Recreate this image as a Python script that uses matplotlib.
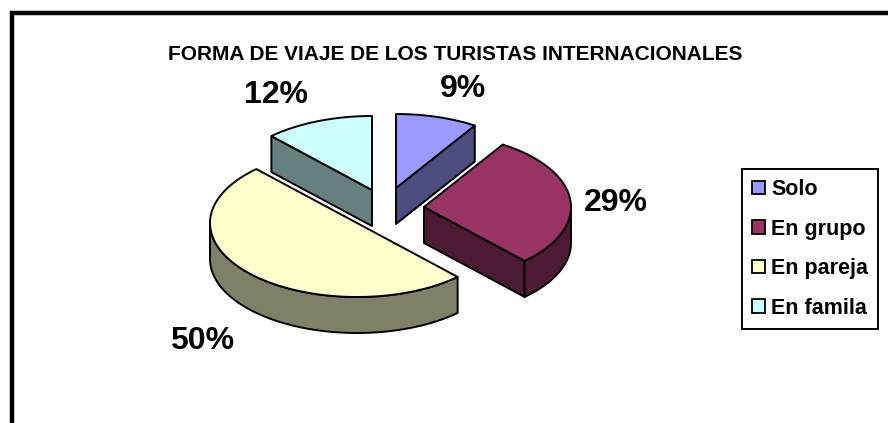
import matplotlib
matplotlib.use("Agg")
import matplotlib.pyplot as plt
from matplotlib.patches import Polygon, Patch
import numpy as np

plt.rcParams['font.family'] = ['Liberation Sans', 'DejaVu Sans']

title = "FORMA DE VIAJE DE LOS TURISTAS INTERNACIONALES"
categories = ["Solo", "En grupo", "En pareja", "En famila"]
values = [9, 29, 50, 12]

top_colors = ["#9999FF", "#993366", "#FFFFCC", "#CCFFFF"]
side_colors = ["#4D4D80", "#4D1A33", "#808066", "#668080"]

# where each slice sits once exploded, in pixels
apex_x = [396, 424, 357, 372]
apex_y = [188, 207, 223, 190]
label_x = [463, 616, 202, 276]
label_y = [89, 203, 341, 95]
rx = 147
ry = 74
depth = 36

fig = plt.figure(figsize=(8.88, 4.23), dpi=100)
ax = fig.add_axes([0, 0, 1, 1])
ax.set_xlim(0, 888)
ax.set_ylim(423, 0)
ax.axis('off')

# thick frame, cut off at right and bottom
ax.plot([12, 12, 900], [440, 13, 13], color='black', lw=3.2, solid_joinstyle='miter')

ax.text(455, 54, title, ha='center', va='center', fontsize=15, fontweight='bold')


def arc(cx, cy, a0, a1):
    # angles clockwise from the top of the pie, in degrees
    t = np.radians(np.linspace(a0, a1, 80))
    return np.column_stack([cx + rx * np.sin(t), cy - ry * np.cos(t)])


def draw_slice(i, a0, a1):
    cx = apex_x[i]
    cy = apex_y[i]
    down = np.array([0, depth])
    apex = np.array([[cx, cy]])
    edge = {'edgecolor': 'black', 'linewidth': 1.4, 'joinstyle': 'round'}
    # side walls that face the viewer
    if np.sin(np.radians(a0)) < -1e-6:
        p = arc(cx, cy, a0, a0)[:1]
        ax.add_patch(Polygon(np.vstack([apex, p, p + down, apex + down]), facecolor=side_colors[i], **edge))
    if np.sin(np.radians(a1)) > 1e-6:
        p = arc(cx, cy, a1, a1)[:1]
        ax.add_patch(Polygon(np.vstack([apex, p, p + down, apex + down]), facecolor=side_colors[i], **edge))
    # outer rim, only the front half of the ellipse shows
    r0 = max(a0, 90)
    r1 = min(a1, 270)
    if r1 > r0:
        p = arc(cx, cy, r0, r1)
        ax.add_patch(Polygon(np.vstack([p, (p + down)[::-1]]), facecolor=side_colors[i], **edge))
    ax.add_patch(Polygon(np.vstack([apex, arc(cx, cy, a0, a1)]), facecolor=top_colors[i], **edge))


ends = np.cumsum(values) / np.sum(values) * 360
starts = np.concatenate([[0], ends[:-1]])

# back slices first so the yellow one ends up on top
for i in [3, 0, 1, 2]:
    draw_slice(i, starts[i], ends[i])

for i in range(len(values)):
    ax.text(label_x[i], label_y[i], str(values[i]) + "%", ha='center', va='center',
            fontsize=23, fontweight='bold')

handles = [Patch(facecolor=c, edgecolor='black', linewidth=1.3) for c in top_colors]
leg = ax.legend(handles, categories, loc='upper left', bbox_to_anchor=(742 / 888, 1 - 169 / 423),
                borderaxespad=0, fancybox=False, framealpha=1, edgecolor='black',
                prop={'size': 15.5, 'weight': 'bold'}, handlelength=0.58, handleheight=0.58,
                handletextpad=0.3, labelspacing=0.86, borderpad=0.47)
leg.get_frame().set_linewidth(1.4)

plt.savefig("out.png", dpi=100)
